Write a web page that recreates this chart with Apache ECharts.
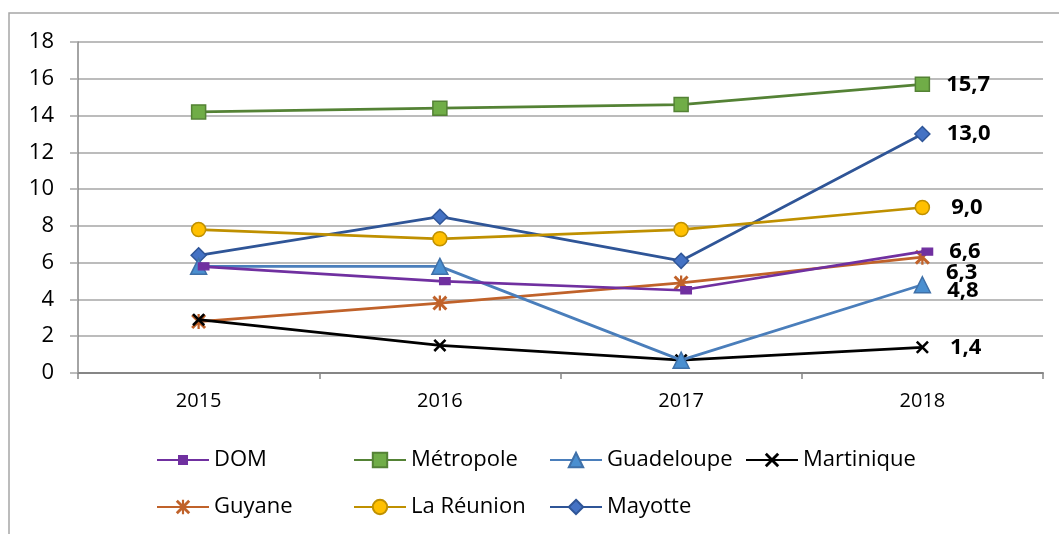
<!DOCTYPE html>
<html lang="fr">
<head>
  <meta charset="utf-8">
  <title>Évolution 2015-2018</title>
  <script type="text/javascript" src="https://cdn.jsdelivr.net/npm/echarts@6/dist/echarts.min.js"></script>
  <style type="text/css">
    * { margin: 0; padding: 0; }
    html, body, #chart { width: 100%; height: 100%; overflow: hidden; background: #fff; }
  </style>
</head>
<body>
  <div id="chart"></div>
  <script type="text/javascript">
    // données
    var years = ['2015', '2016', '2017', '2018'];
    var names = ['DOM', 'Métropole', 'Guadeloupe', 'Martinique', 'Guyane', 'La Réunion', 'Mayotte'];
    var dom = [5.8, 5.0, 4.5, 6.6];
    var metropole = [14.2, 14.4, 14.6, 15.7];
    var guadeloupe = [5.8, 5.8, 0.7, 4.8];
    var martinique = [2.9, 1.5, 0.7, 1.4];
    var guyane = [2.8, 3.8, 4.9, 6.3];
    var reunion = [7.8, 7.3, 7.8, 9.0];
    var mayotte = [6.4, 8.5, 6.1, 13.0];
    var yTicks = { min: 0, max: 18, interval: 2 };

    var font = '"Open Sans", sans-serif';
    var crossPath = 'path://M0,1.4L1.4,0L10,8.6L8.6,10Z M8.6,0L10,1.4L1.4,10L0,8.6Z';
    var starPath = 'path://M0,1.4L1.4,0L10,8.6L8.6,10Z M8.6,0L10,1.4L1.4,10L0,8.6Z M4.25,0L5.75,0L5.75,10L4.25,10Z';

    // style de chaque série : ligne, marqueur, décalage de l'étiquette finale
    var styles = [
      { data: dom, line: '#7030a0', fill: '#7030a0', border: '#7030a0', symbol: 'rect', size: [10, 7], offset: [5, 0], lab: [0, 0], legendH: 10 },
      { data: metropole, line: '#548235', fill: '#70ad47', border: '#548235', symbol: 'rect', size: 14, offset: [0, 0], lab: [0, 0], legendH: 18 },
      { data: guadeloupe, line: '#4a7ebb', fill: '#4a8fd0', border: '#3f70a8', symbol: 'triangle', size: 16, offset: [0, 0], lab: [0, 6], legendH: 18 },
      { data: martinique, line: '#000000', fill: '#000000', border: '#000000', symbol: crossPath, size: 13, offset: [0, 0], lab: [5, 0], legendH: 18 },
      { data: guyane, line: '#c0622a', fill: '#c0622a', border: '#c0622a', symbol: starPath, size: 15, offset: [0, 0], lab: [0, 16], legendH: 18 },
      { data: reunion, line: '#bf9000', fill: '#ffc000', border: '#bf9000', symbol: 'circle', size: 14, offset: [0, 0], lab: [5, 0], legendH: 18 },
      { data: mayotte, line: '#2f5597', fill: '#4472c4', border: '#2f5597', symbol: 'diamond', size: 15, offset: [0, 0], lab: [0, 0], legendH: 18 }
    ];

    var series = names.map(function (name, i) {
      var s = styles[i];
      var last = s.data.length - 1;
      return {
        type: 'line',
        name: name,
        data: s.data.map(function (v, j) {
          if (j !== last) return v;
          return {
            value: v,
            label: {
              show: true,
              position: 'right',
              distance: 16,
              offset: s.lab,
              fontFamily: font,
              fontWeight: 'bold',
              fontSize: 22,
              color: '#000',
              formatter: function (p) { return p.value.toFixed(1).replace('.', ','); }
            }
          };
        }),
        symbol: s.symbol,
        symbolSize: s.size,
        symbolOffset: s.offset,
        showAllSymbol: true,
        lineStyle: { color: s.line, width: 2.75 },
        itemStyle: { color: s.fill, borderColor: s.border, borderWidth: s.symbol.indexOf('path') === 0 ? 0 : 1.5 },
        emphasis: { disabled: true },
        z: 10 - i
      };
    });

    // légende en deux rangées, colonnes régulières
    var legendCols = [156, 353, 549, 745];
    var legendRows = [460, 507];
    var legends = names.map(function (name, i) {
      return {
        data: [name],
        left: legendCols[i % 4],
        top: legendRows[Math.floor(i / 4)] - 11,
        itemWidth: 52,
        itemHeight: styles[i].legendH,
        itemGap: 5,
        padding: 0,
        selectedMode: false,
        textStyle: { fontFamily: font, fontSize: 22, color: '#000' }
      };
    });

    var option = {
      animation: false,
      backgroundColor: '#fff',
      graphic: [{
        type: 'rect',
        shape: { x: 9, y: 13, width: 1200, height: 700 },
        style: { fill: 'none', stroke: '#a6a6a6', lineWidth: 1.5 },
        silent: true
      }],
      grid: { left: 78, right: 16, top: 42, bottom: 161 },
      legend: legends,
      xAxis: {
        type: 'category',
        data: years,
        boundaryGap: true,
        axisLine: { lineStyle: { color: '#868686', width: 2 } },
        axisTick: { show: true, length: 6, lineStyle: { color: '#868686', width: 1.5 } },
        axisLabel: { fontFamily: font, fontSize: 20, color: '#000', margin: 18 }
      },
      yAxis: {
        type: 'value',
        min: yTicks.min,
        max: yTicks.max,
        interval: yTicks.interval,
        axisLine: { show: true, lineStyle: { color: '#868686', width: 1.5 } },
        axisTick: { show: true, length: 8, lineStyle: { color: '#a6a6a6', width: 1.5 } },
        axisLabel: { fontFamily: font, fontSize: 22, color: '#000', margin: 24 },
        splitLine: { lineStyle: { color: '#a6a6a6', width: 1.5 } }
      },
      series: series
    };

    var chart = echarts.init(document.getElementById('chart'));
    chart.setOption(option);
  </script>
</body>
</html>
